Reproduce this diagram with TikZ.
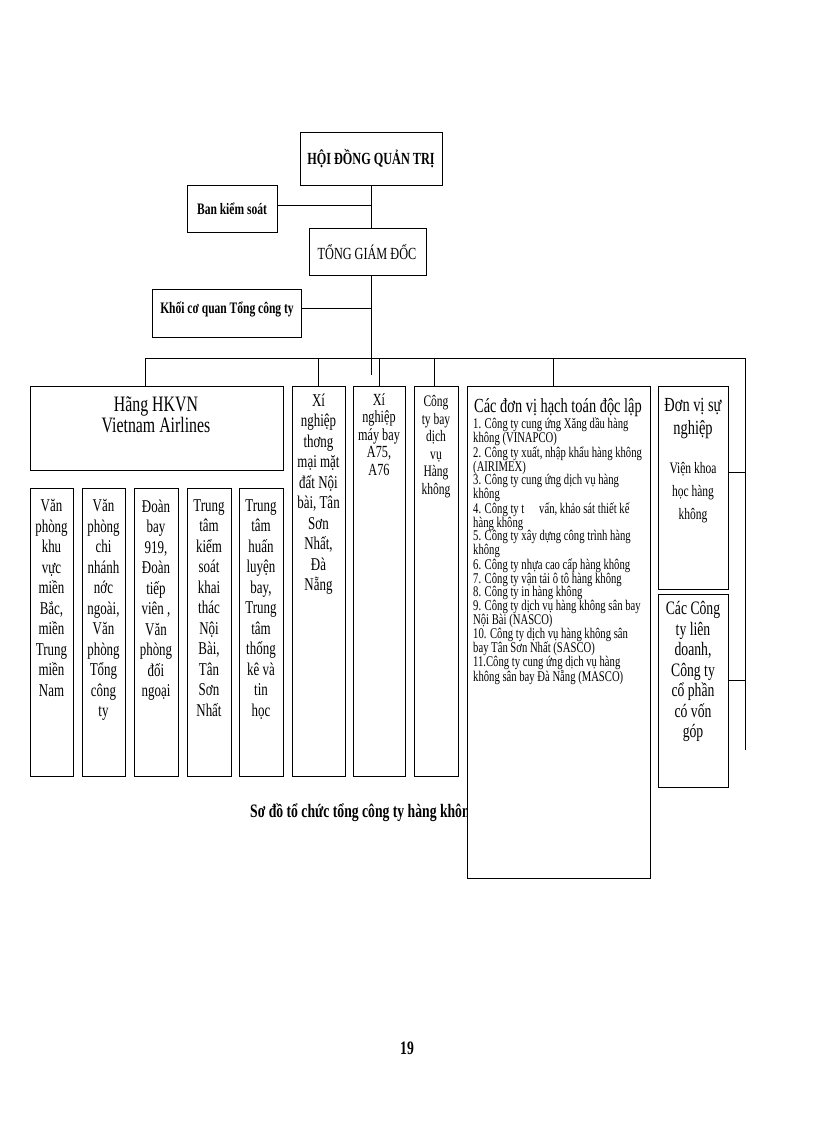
\documentclass[tikz,border=0pt]{standalone}
\usepackage{fontspec}
\setmainfont[FakeStretch=0.72]{Liberation Serif}
\begin{document}
\begin{tikzpicture}[x=1pt,y=-1pt,
  bx/.style={draw,line width=1pt,fill=white,inner sep=0pt},
  ln/.style={line width=0.9pt},
  col/.style={align=center,font=\fontsize{18}{20.5}\selectfont,anchor=north}]
\useasboundingbox[fill=white] (0,0) rectangle (816,1123);
\node[font=\bfseries\fontsize{19}{20}\selectfont,anchor=west,inner sep=0pt] (cap) at (250,813) {Sơ đồ tổ chức tổng công ty hàng không Việt Nam};
\draw[bx] (300,133) rectangle (442,186); \node[font=\bfseries\fontsize{17}{16}\selectfont] (hd) at (371,159) {HỘI ĐỒNG QUẢN TRỊ};
\draw[bx] (187,186) rectangle (277,233); \node[font=\bfseries\fontsize{16}{16}\selectfont] (bks) at (232,209) {Ban kiểm soát};
\draw[bx] (309,229) rectangle (426,275); \node[font=\fontsize{17}{16}\selectfont] (tgd) at (367,252) {TỔNG GIÁM ĐỐC};
\draw[bx] (152,289) rectangle (301,337); \node[font=\bfseries\fontsize{16}{16}\selectfont] (kcq) at (227,309) {Khối cơ quan Tổng công ty};
\draw[ln] (371,186) -- (371,229);
\draw[ln] (277,205) -- (371,205);
\draw[ln] (371,275) -- (371,375);
\draw[ln] (301,308) -- (371,308);
\draw[ln] (145,358) -- (745,358) -- (745,750);
\foreach \x in {145,318,379,434,553} \draw[ln] (\x,358) -- (\x,386);
\draw[ln] (728,472) -- (745,472);
\draw[ln] (728,680) -- (745,680);
\draw[bx] (30,386) rectangle (283,470);
\node[align=center,font=\fontsize{22}{21}\selectfont,anchor=north] (hang) at (156,393) {Hãng HKVN\\Vietnam Airlines};
\foreach \a/\b/\t [count=\i] in {30/73/{Văn\\phòng\\khu\\vực\\miền\\Bắc,\\miền\\Trung\\miền\\Nam},
  82/125/{Văn\\phòng\\chi\\nhánh\\nớc\\ngoài,\\Văn\\phòng\\Tổng\\công\\ty},
  134/178/{Đoàn\\bay\\919,\\Đoàn\\tiếp\\viên ,\\Văn\\phòng\\đối\\ngoại},
  187/231/{Trung\\tâm\\kiểm\\soát\\khai\\thác\\Nội\\Bài,\\Tân\\Sơn\\Nhất},
  239/283/{Trung\\tâm\\huấn\\luyện\\bay,\\Trung\\tâm\\thống\\kê và\\tin\\học}}{
  \draw[bx] (\a,488) rectangle (\b,776);
  \node[col] (s\i) at ({(\a+\b)/2},496) {\t};}
\draw[bx] (292,386) rectangle (345,776);
\node[col] (xn1) at (318.5,390) {Xí\\nghiệp\\thơng\\mại mặt\\đất Nội\\bài, Tân\\Sơn\\Nhất,\\Đà\\Nẵng};
\draw[bx] (353,386) rectangle (405,776);
\node[col,font=\fontsize{17}{17.5}\selectfont] (xn2) at (379,390) {Xí\\nghiệp\\máy bay\\A75,\\A76};
\draw[bx] (414,386) rectangle (458,776);
\node[col,font=\fontsize{16}{17.5}\selectfont] (cty) at (436,392) {Công\\ty bay\\dịch\\vụ\\Hàng\\không};
\draw[bx] (467,386) rectangle (650,878);
\node[anchor=north,font=\fontsize{20}{18}\selectfont] (cdv) at (558,395) {Các đơn vị hạch toán độc lập};
\node[anchor=north west,align=left,font=\fontsize{14.8}{13.7}\selectfont,inner sep=0pt] (list) at (473,418) {1. Công ty cung ứng Xăng dầu hàng\\không (VINAPCO)\\2. Công ty xuất, nhập khẩu hàng không\\(AIRIMEX)\\3. Công ty cung ứng dịch vụ hàng\\không\\4. Công ty t\quad vấn, khảo sát thiết kế\\hàng không\\5. Công ty xây dựng công trình hàng\\không\\6. Công ty nhựa cao cấp hàng không\\7. Công ty vận tải ô tô hàng không\\8. Công ty in hàng không\\9. Công ty dịch vụ hàng không sân bay\\Nội Bài (NASCO)\\10. Công ty dịch vụ hàng không sân\\bay Tân Sơn Nhất (SASCO)\\11.Công ty cung ứng dịch vụ hàng\\không sân bay Đà Nẵng (MASCO)};
\draw[bx] (658,386) rectangle (728,589);
\node[anchor=north,align=center,font=\fontsize{20}{23}\selectfont] (dvsn) at (693,395) {Đơn vị sự\\nghiệp};
\node[anchor=north,align=center,font=\fontsize{16}{23}\selectfont] (vien) at (693,459) {Viện khoa\\học hàng\\không};
\draw[bx] (658,594) rectangle (728,787);
\node[anchor=north,align=center,font=\fontsize{19}{20.5}\selectfont] (ld) at (693,598) {Các Công\\ty liên\\doanh,\\Công ty\\cổ phần\\có vốn\\góp};
\node[font=\bfseries\fontsize{19}{18}\selectfont] (pg) at (407,1048) {19};
\end{tikzpicture}
\end{document}
